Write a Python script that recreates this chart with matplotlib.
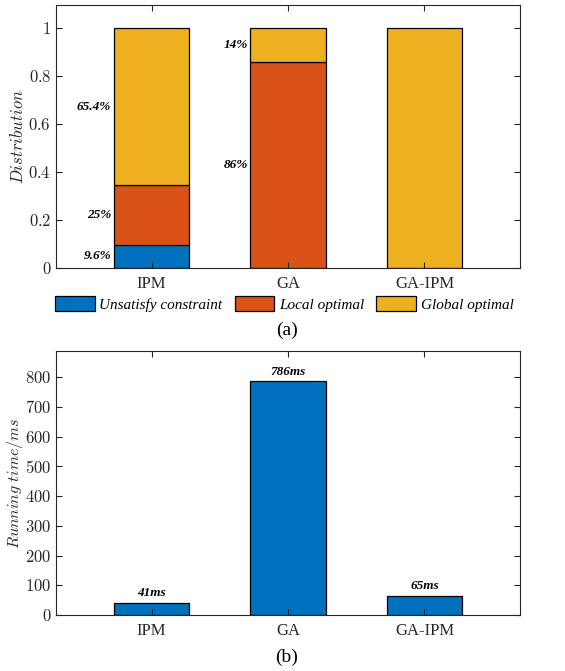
import numpy as np
import matplotlib.pyplot as plt
from matplotlib.ticker import FuncFormatter

plt.rcParams['mathtext.fontset'] = 'cm'
plt.rcParams['font.family'] = 'Liberation Serif'

methods = ['IPM', 'GA', 'GA-IPM']
unsatisfy = [0.096, 0.0, 0.0]
local_opt = [0.25, 0.86, 0.0]
global_opt = [0.654, 0.14, 1.0]
unsatisfy_lbl = ['9.6%', '', '']
local_lbl = ['25%', '86%', '']
global_lbl = ['65.4%', '14%', '']
run_time = [41, 786, 65]
time_lbl = ['41ms', '786ms', '65ms']

c_blue = '#0072BD'
c_orange = '#D95319'
c_yellow = '#EDB120'
spine_c = '#262626'

fig = plt.figure(figsize=(5.65, 6.71), dpi=100)
ax1 = fig.add_axes([56/565, 1-268/671, 464/565, 263/671])
ax2 = fig.add_axes([56/565, 1-615/671, 464/565, 264/671])

x = np.arange(1, len(methods) + 1)
w = 0.55

def tick_fmt(v, pos):
    return r'$%g$' % v

def style(ax):
    ax.set_xlim(0.3, 3.7)
    ax.set_xticks(x)
    ax.set_xticklabels(methods, fontsize=10.5)
    ax.tick_params(direction='in', top=True, right=True, length=4, width=0.8,
                   color=spine_c, labelcolor='#262626', labelsize=12)
    ax.tick_params(axis='x', pad=6)
    ax.yaxis.set_major_formatter(FuncFormatter(tick_fmt))
    for s in ax.spines.values():
        s.set_color(spine_c)
        s.set_linewidth(0.8)

b1 = np.array(unsatisfy)
b2 = b1 + np.array(local_opt)
ax1.bar(x, unsatisfy, w, color=c_blue, edgecolor='black', linewidth=0.9,
        label='Unsatisfy constraint')
ax1.bar(x, local_opt, w, bottom=b1, color=c_orange, edgecolor='black',
        linewidth=0.9, label='Local optimal')
ax1.bar(x, global_opt, w, bottom=b2, color=c_yellow, edgecolor='black',
        linewidth=0.9, label='Global optimal')

for i in range(len(methods)):
    for lbl, base, h in [(unsatisfy_lbl[i], 0, unsatisfy[i]),
                         (local_lbl[i], b1[i], local_opt[i]),
                         (global_lbl[i], b2[i], global_opt[i])]:
        if lbl:
            ax1.text(x[i] - w/2 - 0.02, base + h/2, lbl, ha='right', va='center',
                     fontsize=9.5, fontweight='bold', fontstyle='italic')

style(ax1)
ax1.set_ylim(0, 1.096)
ax1.set_yticks([0, 0.2, 0.4, 0.6, 0.8, 1])
ax1.set_ylabel(r'$Distribution$', fontsize=12, color='#262626')
ax1.yaxis.set_label_coords(-0.063, 0.5)
leg = ax1.legend(loc='upper center', bbox_to_anchor=(0.492, -0.085), ncol=3,
                 frameon=False, prop={'style': 'italic', 'size': 11},
                 handlelength=2.6, handleheight=1.1, handletextpad=0.3,
                 columnspacing=0.8, borderaxespad=0)
fig.text(287/565, 1-330/671, '(a)', ha='center', va='center', fontsize=14)

ax2.bar(x, run_time, w, color=c_blue, edgecolor='black', linewidth=0.9)
for i in range(len(methods)):
    ax2.text(x[i], run_time[i] + 12, time_lbl[i], ha='center', va='bottom',
             fontsize=9.5, fontweight='bold', fontstyle='italic')
style(ax2)
ax2.set_ylim(0, 888)
ax2.set_yticks(np.arange(0, 801, 100))
ax2.set_ylabel(r'$Running\ time/ms$', fontsize=11.5, color='#262626')
ax2.yaxis.set_label_coords(-0.066, 0.5)
fig.text(287/565, 1-657/671, '(b)', ha='center', va='center', fontsize=14)

fig.savefig('out.png', dpi=100)
